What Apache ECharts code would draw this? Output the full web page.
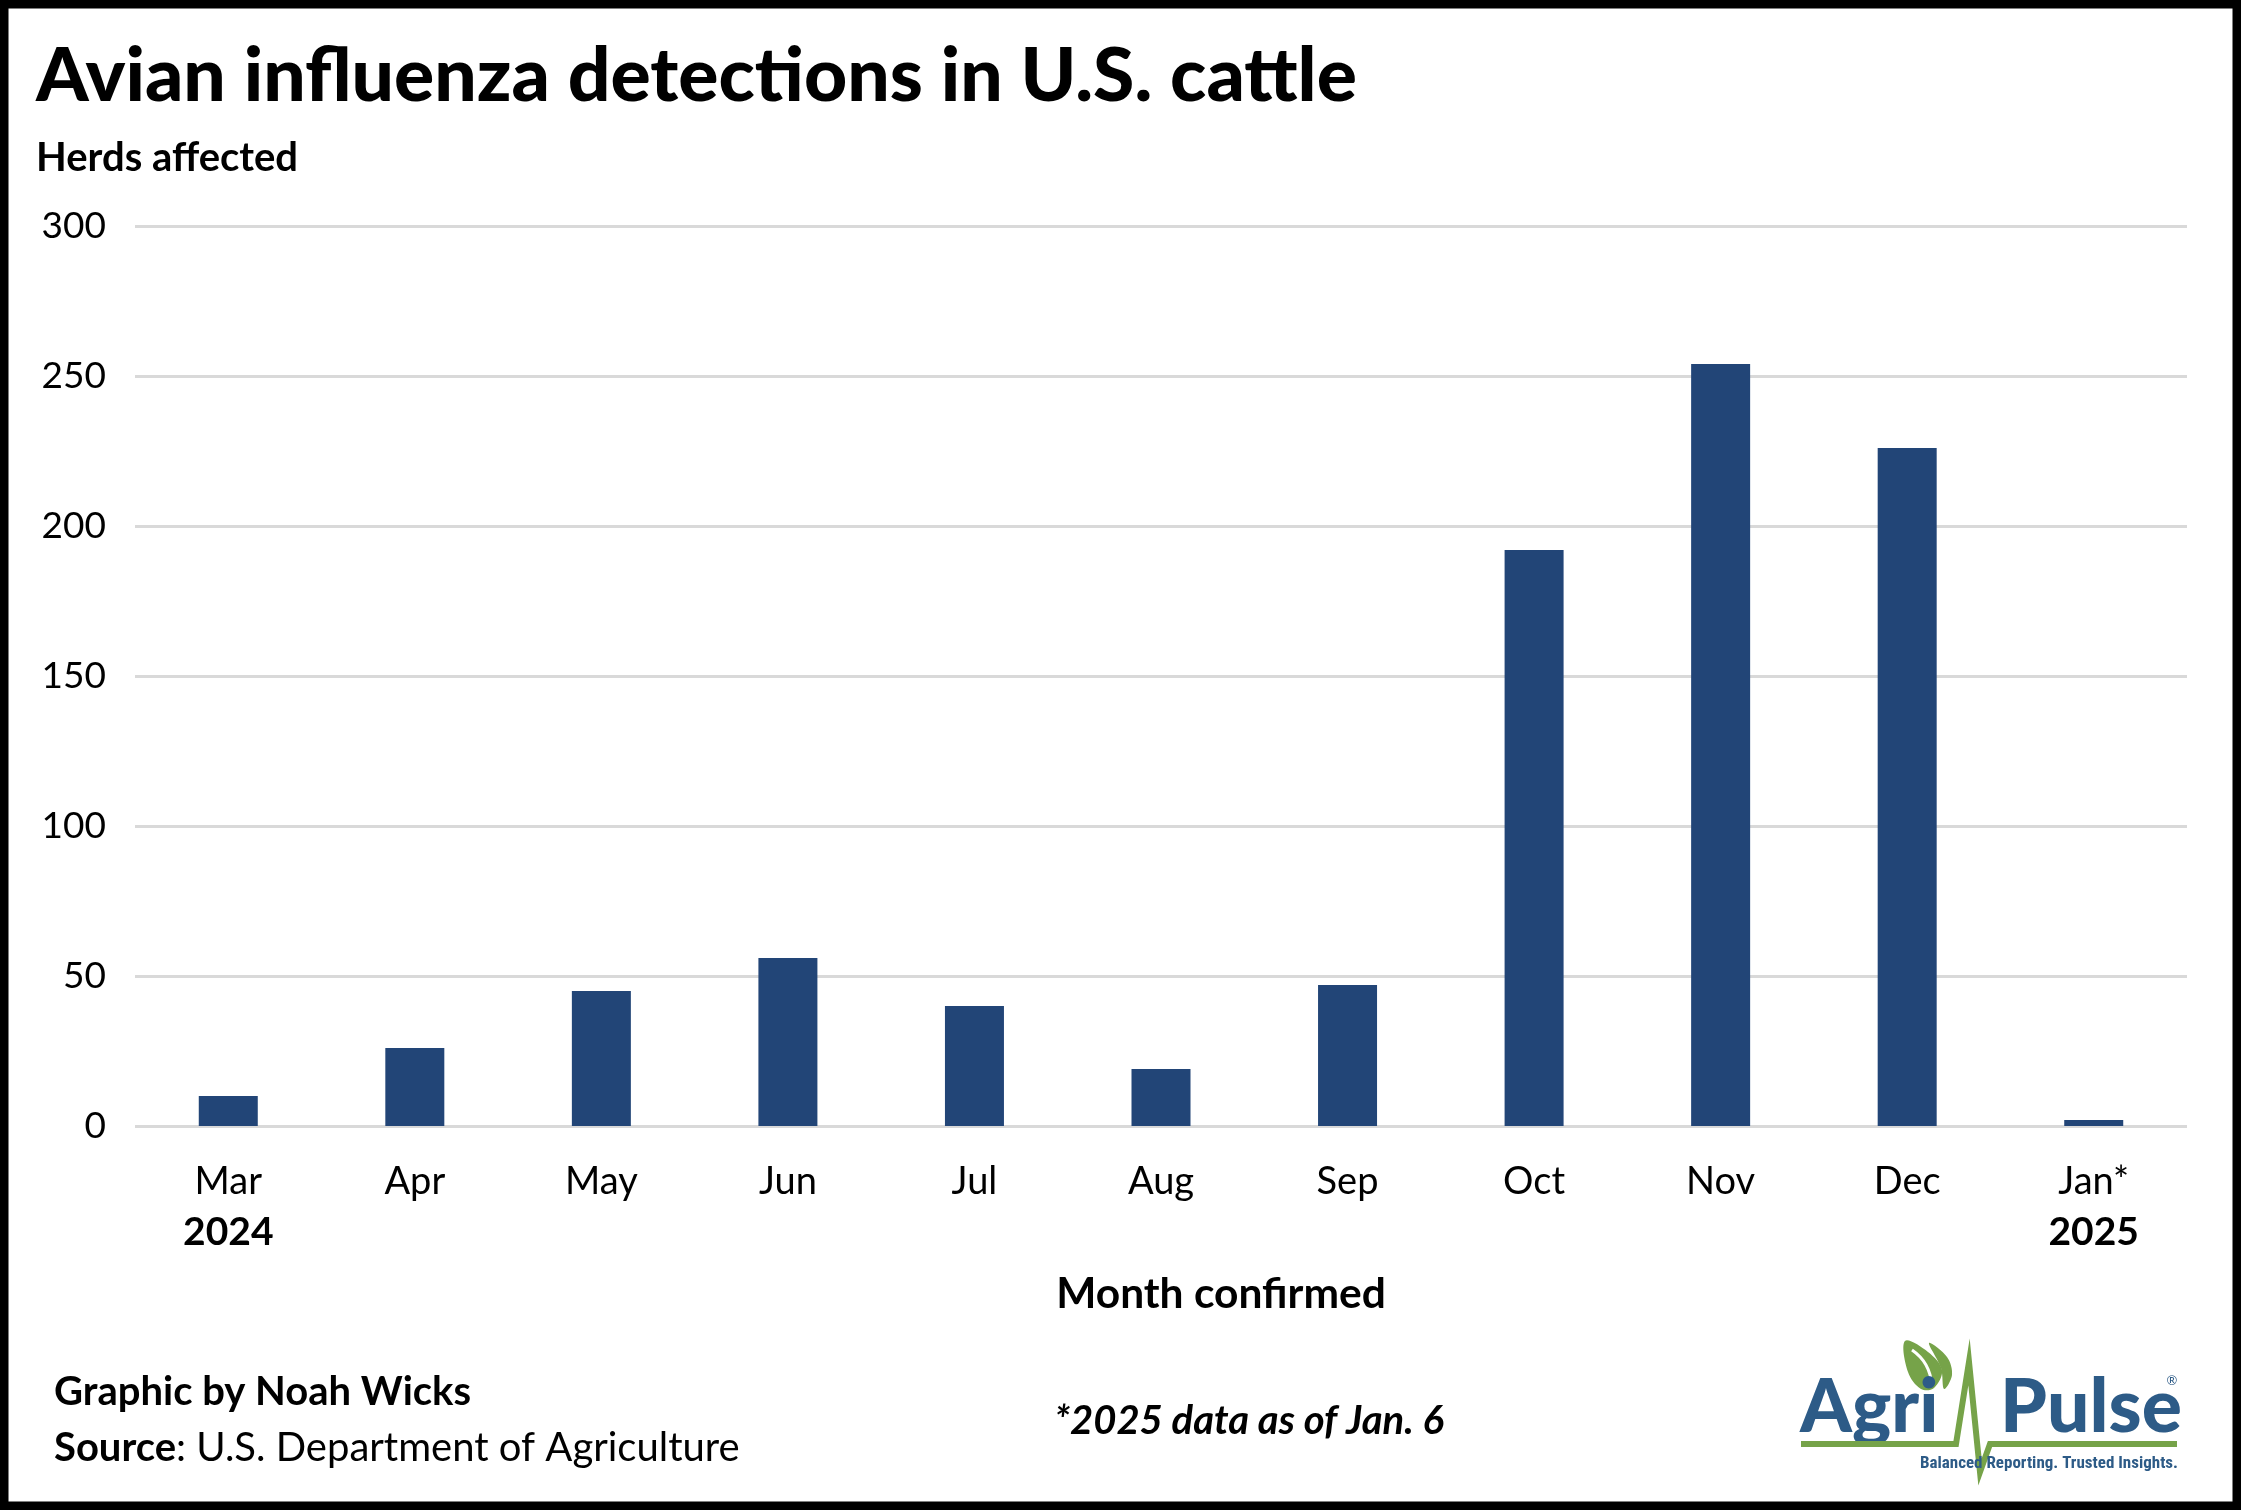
<!DOCTYPE html>
<html>
<head>
<meta charset="utf-8">
<script src="https://cdn.jsdelivr.net/npm/echarts@6/dist/echarts.min.js"></script>
<style>
html,body{margin:0;padding:0;background:#fff;}
#chart{width:2241px;height:1510px;}
</style>
</head>
<body>
<div id="chart"></div>
<script>
const months = ['Mar', 'Apr', 'May', 'Jun', 'Jul', 'Aug', 'Sep', 'Oct', 'Nov', 'Dec', 'Jan*'];
const years = ['2024', '', '', '', '', '', '', '', '', '', '2025'];
const herds = [10, 26, 45, 56, 40, 19, 47, 192, 254, 226, 2];
const yMin = 0, yMax = 300, yStep = 50;

const FONT = 'Lato, "Noto Sans", sans-serif';
const chart = echarts.init(document.getElementById('chart'), null, {renderer: 'canvas'});

const blue = '#2d5b87';
const green = '#76a349';

chart.setOption({
  backgroundColor: '#ffffff',
  animation: false,
  grid: {left: 135, right: 54, top: 226, bottom: 384, containLabel: false},
  xAxis: {
    type: 'category',
    data: months,
    boundaryGap: true,
    axisLine: {show: false},
    axisTick: {show: false},
    axisLabel: {
      interval: 0,
      margin: 30,
      formatter: function (v, i) {
        return years[i] ? v + '\n{yr|' + years[i] + '}' : v;
      },
      fontFamily: FONT,
      fontSize: 38,
      color: '#000',
      lineHeight: 51,
      rich: {
        yr: {fontFamily: FONT, fontSize: 39, fontWeight: 'bold', color: '#000', lineHeight: 51}
      }
    }
  },
  yAxis: {
    type: 'value',
    min: yMin, max: yMax, interval: yStep,
    axisLine: {show: false},
    axisTick: {show: false},
    axisLabel: {fontFamily: FONT, fontSize: 37, color: '#000', margin: 29},
    splitLine: {lineStyle: {color: '#d9d9d9', width: 3}}
  },
  series: [{
    type: 'bar',
    data: herds,
    barWidth: 59,
    itemStyle: {color: '#224577'}
  }],
  graphic: [
    {type: 'rect', shape: {x: 4, y: 4, width: 2233, height: 1502}, style: {fill: 'none', stroke: '#000', lineWidth: 9}, z: 100},
    {type: 'text', x: 36, y: 77, style: {text: 'Avian influenza detections in U.S. cattle', fontFamily: FONT, fontSize: 75, fontWeight: 900, fill: '#000', verticalAlign: 'middle', align: 'left'}},
    {type: 'text', x: 36, y: 158, style: {text: 'Herds affected', fontFamily: FONT, fontSize: 40, fontWeight: 'bold', fill: '#000', verticalAlign: 'middle', align: 'left'}},
    {type: 'text', x: 1221, y: 1294, style: {text: 'Month confirmed', fontFamily: FONT, fontSize: 42.5, fontWeight: 'bold', fill: '#000', verticalAlign: 'middle', align: 'center'}},
    {type: 'text', x: 54, y: 1392, style: {text: 'Graphic by Noah Wicks', fontFamily: FONT, fontSize: 40, fontWeight: 'bold', fill: '#000', verticalAlign: 'middle', align: 'left'}},
    {type: 'text', x: 54, y: 1448, style: {
      text: '{b|Source}: U.S. Department of Agriculture', fontFamily: FONT, fontSize: 40, fill: '#000', verticalAlign: 'middle', align: 'left',
      rich: {b: {fontFamily: FONT, fontSize: 40, fontWeight: 'bold', fill: '#000'}}
    }},
    {type: 'text', x: 1249, y: 1421, style: {text: '*2025 data as of Jan. 6', fontFamily: FONT, fontSize: 40, fontWeight: 'bold', fontStyle: 'italic', fill: '#000', verticalAlign: 'middle', align: 'center'}},
    // logo
    {type: 'polygon', shape: {points: [[1905, 1341], [1928, 1352], [1942, 1370], [1934, 1388], [1921, 1389], [1908, 1372]], smooth: 0.35}, style: {fill: green}},
    {type: 'polygon', shape: {points: [[1929, 1343], [1947, 1357], [1952, 1375], [1944, 1389], [1941, 1368]], smooth: 0.35}, style: {fill: green}},
    {type: 'polyline', shape: {points: [[1912, 1350], [1926, 1365], [1932, 1386]], smooth: 0.5}, style: {stroke: '#fff', lineWidth: 3, fill: 'none'}},
    {type: 'text', x: 1800, y: 1408, style: {text: 'Agri', fontFamily: FONT, fontSize: 74, fontWeight: 900, fill: blue, verticalAlign: 'middle', align: 'left'}},
    {type: 'text', x: 2000, y: 1408, style: {text: 'Pulse', fontFamily: FONT, fontSize: 75, fontWeight: 900, fill: blue, verticalAlign: 'middle', align: 'left'}},
    {type: 'polyline', shape: {points: [[1801, 1444], [1956, 1444], [1969, 1362], [1980, 1472], [1990, 1444], [2177, 1444]]}, style: {stroke: green, lineWidth: 6, fill: 'none'}},
    {type: 'text', x: 2178, y: 1464, style: {text: 'Balanced Reporting. Trusted Insights.', fontFamily: '"Liberation Sans Narrow", "Roboto Condensed", sans-serif', fontSize: 17, fontWeight: 'bold', fill: blue, verticalAlign: 'middle', align: 'right'}},
    {type: 'text', x: 2172, y: 1381, style: {text: '®', fontFamily: FONT, fontSize: 13, fill: blue, verticalAlign: 'middle', align: 'center'}}
  ]
});
</script>
</body>
</html>
